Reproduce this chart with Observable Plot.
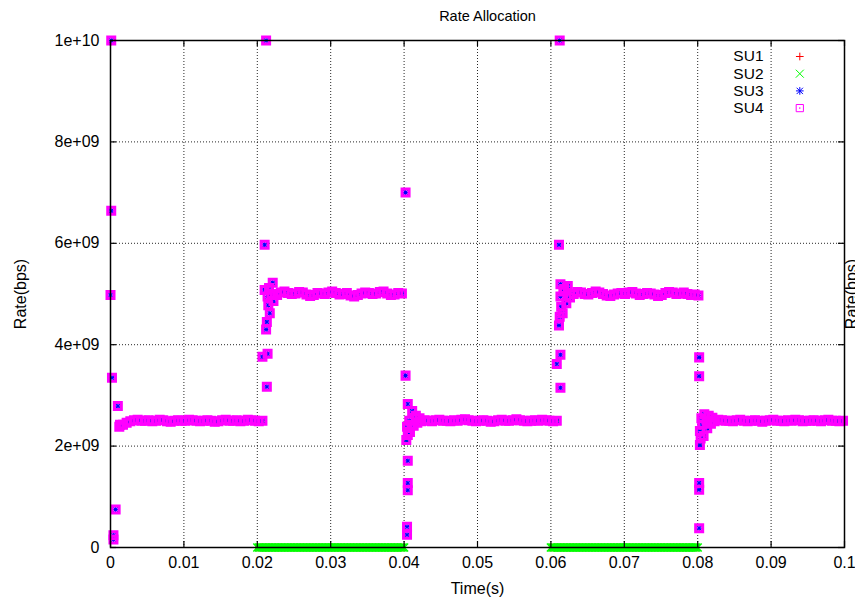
<!DOCTYPE html>
<html>
<head>
<meta charset="utf-8">
<script src="https://cdn.jsdelivr.net/npm/d3@7"></script>
<script src="https://cdn.jsdelivr.net/npm/@observablehq/plot@0.6"></script>
<style>
  html, body { margin: 0; padding: 0; background: #fff; overflow: hidden; }
  #chart svg { display: block; }
</style>
</head>
<body>
<div id="chart"></div>
<script>
// ---------- text ----------
const title = "Rate Allocation";
const xLabel = "Time(s)";
const yLabel = "Rate(bps)";
const seriesNames = ["SU1", "SU2", "SU3", "SU4"];
const seriesColors = ["#ff0000", "#00ff00", "#0000ff", "#ff00ff"];

// ---------- ticks ----------
const xTicks = [0, 0.01, 0.02, 0.03, 0.04, 0.05, 0.06, 0.07, 0.08, 0.09, 0.1];
const xTickLabels = ["0", "0.01", "0.02", "0.03", "0.04", "0.05", "0.06", "0.07", "0.08", "0.09", "0.1"];
const yTicks = [0, 2e9, 4e9, 6e9, 8e9, 1e10];
const yTickLabels = ["0", "2e+09", "4e+09", "6e+09", "8e+09", "1e+10"];

// ---------- data (rates in Gbps) ----------
// steady-state samples of SU3/SU4, one every sampleStep seconds from each start time
const sampleStep = 0.0005;
const bandStarts = [0.0012, 0.0212, 0.0403, 0.0611, 0.0803];
const band1 = [2.38, 2.42, 2.46, 2.49, 2.51, 2.52, 2.50, 2.50, 2.51, 2.49,
               2.50, 2.52, 2.51, 2.49, 2.48, 2.50, 2.51, 2.50, 2.50, 2.52,
               2.51, 2.50, 2.49, 2.50, 2.51, 2.50, 2.48, 2.49, 2.51, 2.52,
               2.50, 2.50, 2.51, 2.49, 2.50, 2.52, 2.51, 2.50, 2.49, 2.50];
const band2 = [4.30, 4.62, 4.86, 4.98, 5.03, 5.05, 5.02, 5.00, 5.01, 5.04,
               5.03, 4.99, 4.96, 4.98, 5.02, 5.01, 5.00, 5.03, 5.05, 5.02,
               4.99, 5.00, 5.02, 4.97, 4.95, 4.98, 5.01, 5.03, 5.02, 5.00,
               5.01, 5.04, 5.05, 5.01, 4.98, 4.99, 5.02, 5.01];
const band3 = [2.12, 2.28, 2.40, 2.46, 2.49, 2.51, 2.50, 2.49, 2.51, 2.52,
               2.50, 2.50, 2.49, 2.51, 2.50, 2.52, 2.53, 2.51, 2.50, 2.49,
               2.50, 2.51, 2.50, 2.48, 2.49, 2.51, 2.52, 2.50, 2.50, 2.51,
               2.53, 2.51, 2.50, 2.49, 2.50, 2.51, 2.50, 2.52, 2.51, 2.50,
               2.49, 2.50];
const band4 = [4.38, 4.62, 4.82, 4.93, 5.00, 5.04, 5.03, 5.00, 4.99, 5.02,
               5.05, 5.03, 5.00, 4.97, 4.96, 4.99, 5.01, 5.02, 5.00, 5.03,
               5.04, 5.01, 4.98, 5.00, 5.02, 5.01, 4.99, 4.96, 4.98, 5.02,
               5.04, 5.03, 5.00, 5.01, 5.03, 5.00, 4.98, 4.99, 4.97];
const band5 = [2.02, 2.20, 2.35, 2.44, 2.49, 2.52, 2.51, 2.50, 2.50, 2.49,
               2.51, 2.52, 2.50, 2.49, 2.50, 2.51, 2.50, 2.48, 2.50, 2.51,
               2.52, 2.50, 2.50, 2.49, 2.51, 2.50, 2.52, 2.51, 2.49, 2.50,
               2.50, 2.51, 2.50, 2.49, 2.51, 2.52, 2.50, 2.50, 2.49, 2.50];

// isolated transient points at each switching instant (SU3/SU4)
const spikeTime = [0.0001, 0.0001, 0.0000, 0.0002, 0.0004, 0.0004, 0.0007, 0.0010, 0.0013,
                   0.0207, 0.0214, 0.0213, 0.0212, 0.0210, 0.0210, 0.0221, 0.0216,
                   0.0213, 0.0215, 0.0214, 0.0219,
                   0.0402, 0.0402, 0.0405, 0.0411, 0.0416, 0.0421, 0.0405, 0.0405, 0.0405, 0.0404, 0.0404,
                   0.0405, 0.0404, 0.0407, 0.0410,
                   0.0612, 0.0611, 0.0613, 0.0623, 0.0618, 0.0613, 0.0608, 0.0613,
                   0.0612, 0.0614, 0.0613, 0.0617,
                   0.0802, 0.0802, 0.0802, 0.0802, 0.0802, 0.0809, 0.0815, 0.0820,
                   0.0804, 0.0803, 0.0806, 0.0805, 0.0812];
const spikeRate = [10.0, 6.64, 4.98, 3.35, 0.24, 0.16, 0.75, 2.79, 2.42,
                   3.76, 3.82, 3.17, 10.0, 5.97, 5.08, 5.22, 5.12,
                   4.45, 4.78, 4.95, 5.00,
                   7.00, 3.39, 2.83, 2.69, 2.60, 2.55, 1.71, 1.27, 1.13, 0.41, 0.25,
                   2.22, 2.38, 2.50, 2.42,
                   10.0, 5.97, 5.19, 5.16, 5.10, 3.80, 3.62, 3.15,
                   4.55, 4.75, 4.95, 5.05,
                   3.75, 3.38, 1.27, 1.14, 0.38, 2.63, 2.60, 2.56,
                   2.15, 2.30, 2.42, 2.55, 2.50];

// SU1 / SU2 are switched off (rate 0) during these spans, sampled every zeroStep seconds
const zeroStep = 0.0002;
const su1OffSpans = [[0.0198, 0.0400], [0.0598, 0.0800]];
const su2OffSpans = [[0.0200, 0.0400], [0.0600, 0.0800]];

// ---------- build tables ----------
const bands = [band1, band2, band3, band4, band5];
const bandRows = bands.map((vals, k) => vals.map((v, i) => ({t: bandStarts[k] + i * sampleStep, v})));
const spikeRows = spikeTime.map((t, i) => ({t, v: spikeRate[i]}));
const su4 = bandRows.flat().concat(spikeRows);
const su3 = su4; // SU3 coincides with SU4 in the picture
const sharedRows = [bandRows[0], bandRows[2], bandRows[4]].flat();
const zeroRows = spans => spans.flatMap(([a, b]) => d3.range(a, b + 1e-9, zeroStep).map(t => ({t, v: 0})));
const su1 = sharedRows.concat(zeroRows(su1OffSpans));
const su2 = sharedRows.concat(zeroRows(su2OffSpans));

// ---------- layout ----------
const W = 855, H = 600;
const mL = 110, mR = 11, mT = 40, mB = 53;
const frameW = W - mL - mR, frameH = H - mT - mB;
const FS = 16;        // tick labels, axis labels
const FS_LEG = 15.5;  // legend
const FS_TITLE = 14.5;
const X = d => d.t, Y = d => d.v * 1e9;
const legendDy = i => 16 + i * 17.2;

const plusR = 2.6, timesR = 3.72, boxR = 4.46;

const legendMarks = [];
seriesNames.forEach((name, i) => {
  legendMarks.push(Plot.text([name], {text: d => d, frameAnchor: "top-right", textAnchor: "end", lineAnchor: "middle", dx: -81, dy: legendDy(i), fontSize: FS_LEG, fill: "#000"}));
});
legendMarks.push(Plot.dot([seriesNames[0]], {frameAnchor: "top-right", dx: -44.7, dy: legendDy(0), symbol: "plus", r: plusR, stroke: seriesColors[0], fill: "none", strokeWidth: 1}));
legendMarks.push(Plot.dot([seriesNames[1]], {frameAnchor: "top-right", dx: -44.7, dy: legendDy(1), symbol: "times", r: timesR, stroke: seriesColors[1], fill: "none", strokeWidth: 1}));
legendMarks.push(Plot.dot([seriesNames[2]], {frameAnchor: "top-right", dx: -44.7, dy: legendDy(2), symbol: "plus", r: plusR, stroke: seriesColors[2], fill: "none", strokeWidth: 1}));
legendMarks.push(Plot.dot([seriesNames[2]], {frameAnchor: "top-right", dx: -44.7, dy: legendDy(2), symbol: "times", r: timesR * 0.8, stroke: seriesColors[2], fill: "none", strokeWidth: 1}));
legendMarks.push(Plot.dot([seriesNames[3]], {frameAnchor: "top-right", dx: -44.7, dy: legendDy(3), symbol: "square2", r: 4.6, stroke: seriesColors[3], fill: "none", strokeWidth: 1}));
legendMarks.push(Plot.dot([seriesNames[3]], {frameAnchor: "top-right", dx: -44.7, dy: legendDy(3), r: 0.8, fill: seriesColors[3], stroke: "none"}));

const chart = Plot.plot({
  width: W, height: H,
  marginLeft: mL, marginRight: mR, marginTop: mT, marginBottom: mB,
  style: {fontFamily: "'Liberation Sans', Arial, Helvetica, sans-serif", fontSize: FS + "px", background: "#fff", color: "#000"},
  x: {domain: [0, 0.1], axis: null},
  y: {domain: [0, 1e10], axis: null},
  marks: [
    // grid
    Plot.ruleX(xTicks.slice(1, -1), {x: d => d, stroke: "#000", strokeWidth: 1, strokeDasharray: "1,2", strokeOpacity: 0.85}),
    Plot.ruleY(yTicks.slice(1, -1), {y: d => d, stroke: "#000", strokeWidth: 1, strokeDasharray: "1,2", strokeOpacity: 0.85}),
    // data
    Plot.dot(su1, {x: X, y: Y, symbol: "plus", r: plusR, stroke: seriesColors[0], fill: "none", strokeWidth: 1.2}),
    Plot.dot(su2, {x: X, y: Y, symbol: "times", r: timesR, stroke: seriesColors[1], fill: "none", strokeWidth: 1.5}),
    Plot.dot(su3, {x: X, y: Y, symbol: "plus", r: plusR, stroke: seriesColors[2], fill: "none", strokeWidth: 1.2}),
    Plot.dot(su3, {x: X, y: Y, symbol: "times", r: timesR * 0.8, stroke: seriesColors[2], fill: "none", strokeWidth: 1.2}),
    Plot.dot(su4, {x: X, y: Y, symbol: "square2", r: boxR, stroke: seriesColors[3], fill: "none", strokeWidth: 3}),
    // border and inward ticks
    Plot.frame({stroke: "#000", strokeWidth: 1.5}),
    Plot.tickX(xTicks, {x: d => d, stroke: "#000", strokeWidth: 1.2, insetTop: frameH - 6}),
    Plot.tickX(xTicks, {x: d => d, stroke: "#000", strokeWidth: 1.2, insetBottom: frameH - 6}),
    Plot.tickY(yTicks, {y: d => d, stroke: "#000", strokeWidth: 1.2, insetRight: frameW - 6}),
    Plot.tickY(yTicks, {y: d => d, stroke: "#000", strokeWidth: 1.2, insetLeft: frameW - 6}),
    // tick labels
    Plot.text(xTicks, {x: d => d, text: (d, i) => xTickLabels[i], frameAnchor: "bottom", textAnchor: "middle", lineAnchor: "top", dy: 9, fontSize: FS, fill: "#000"}),
    Plot.text(yTicks, {y: d => d, text: (d, i) => yTickLabels[i], frameAnchor: "left", textAnchor: "end", lineAnchor: "middle", dx: -11, fontSize: FS, fill: "#000"}),
    // titles
    Plot.text([title], {text: d => d, frameAnchor: "top", textAnchor: "middle", lineAnchor: "middle", dx: 10, dy: -24, fontSize: FS_TITLE, fill: "#000"}),
    Plot.text([xLabel], {text: d => d, frameAnchor: "bottom", textAnchor: "middle", lineAnchor: "middle", dy: 41, fontSize: FS, fill: "#000"}),
    Plot.text([yLabel], {text: d => d, frameAnchor: "left", textAnchor: "middle", lineAnchor: "middle", dx: -90, rotate: -90, fontSize: FS, fill: "#000"}),
    Plot.text([yLabel], {text: d => d, frameAnchor: "right", textAnchor: "middle", lineAnchor: "middle", dx: 7, rotate: -90, fontSize: FS, fill: "#000"}),
    // legend
    ...legendMarks
  ]
});
document.getElementById("chart").appendChild(chart);
</script>
</body>
</html>
